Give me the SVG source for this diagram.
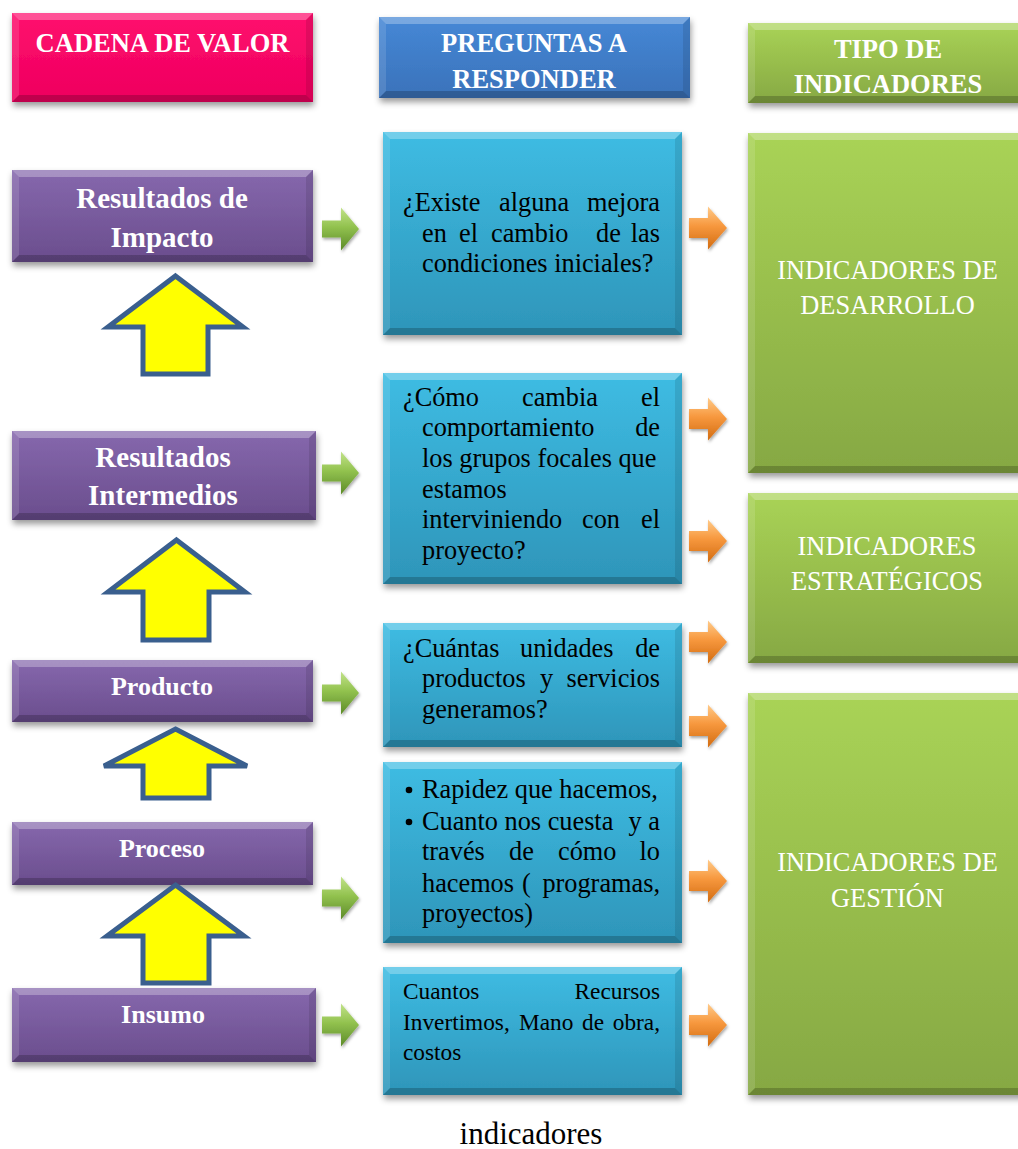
<svg xmlns="http://www.w3.org/2000/svg" width="1018" height="1149" viewBox="0 0 1018 1149">
  <defs>
    <linearGradient id="gPink" x1="0" y1="0" x2="0" y2="1">
      <stop offset="0" stop-color="#FF0D6E"/>
      <stop offset="1" stop-color="#EE005E"/>
    </linearGradient>
    <linearGradient id="gBlue" x1="0" y1="0" x2="0" y2="1">
      <stop offset="0" stop-color="#4688D6"/>
      <stop offset="1" stop-color="#3A72BA"/>
    </linearGradient>
    <linearGradient id="gGreen" x1="0" y1="0" x2="0" y2="1">
      <stop offset="0" stop-color="#A9D356"/>
      <stop offset="1" stop-color="#86A843"/>
    </linearGradient>
    <linearGradient id="gPurple" x1="0" y1="0" x2="0" y2="1">
      <stop offset="0" stop-color="#8668AD"/>
      <stop offset="1" stop-color="#6A4D8D"/>
    </linearGradient>
    <linearGradient id="gCyan" x1="0" y1="0" x2="0" y2="1">
      <stop offset="0" stop-color="#3EBCE3"/>
      <stop offset="1" stop-color="#2E95B9"/>
    </linearGradient>
    <linearGradient id="gArrGreen" x1="0" y1="0" x2="0" y2="1">
      <stop offset="0" stop-color="#C2E38A"/>
      <stop offset="0.45" stop-color="#92C24F"/>
      <stop offset="1" stop-color="#5C8A28"/>
    </linearGradient>
    <linearGradient id="gArrOrange" x1="0" y1="0" x2="0" y2="1">
      <stop offset="0" stop-color="#FFCB8A"/>
      <stop offset="0.45" stop-color="#F7983E"/>
      <stop offset="1" stop-color="#D26C12"/>
    </linearGradient>
    <filter id="shadow" x="-10%" y="-10%" width="120%" height="130%">
      <feDropShadow dx="1" dy="4" stdDeviation="3" flood-color="#000" flood-opacity="0.4"/>
    </filter>
    <filter id="ashadow" x="-20%" y="-20%" width="150%" height="150%">
      <feDropShadow dx="1" dy="2" stdDeviation="1.5" flood-color="#000" flood-opacity="0.35"/>
    </filter>
    <!-- small right-pointing block arrows -->
    <path id="arrGreen" d="M0,-8.5 H19 V-21.5 L37,0 L19,21.5 V8.5 H0 Z"/>
    <path id="arrOrange" d="M0,-10 H19 V-21.5 L38,0 L19,21.5 V10 H0 Z"/>
  </defs>
  <style>
    .bt { fill:#fff; opacity:.28 }
    .bl { fill:#fff; opacity:.12 }
    .br { fill:#000; opacity:.10 }
    .bb { fill:#000; opacity:.20 }
    .box { filter:url(#shadow) }
    .hd { font-family:"Liberation Serif","Times New Roman",serif; font-weight:bold; font-size:26.5px; fill:#fff; text-anchor:middle }
    .pl { font-family:"Liberation Serif","Times New Roman",serif; font-weight:bold; font-size:29px; fill:#fff; text-anchor:middle }
    .ps { font-family:"Liberation Serif","Times New Roman",serif; font-weight:bold; font-size:26px; fill:#fff; text-anchor:middle }
    .q { font-family:"Liberation Serif","Times New Roman",serif; font-size:26.3px; fill:#000 }
    .q5 { font-family:"Liberation Serif","Times New Roman",serif; font-size:23.3px; fill:#000 }
    .e { text-anchor:end }
    .gi { font-family:"Liberation Serif","Times New Roman",serif; font-size:26.4px; fill:#fff; text-anchor:middle }
    .cap { font-family:"Liberation Serif","Times New Roman",serif; font-size:31px; fill:#000; text-anchor:middle }
    .up { fill:#FFFF00; stroke:#3A5F8E; stroke-width:5; stroke-linejoin:miter }
    .ag { fill:url(#gArrGreen); filter:url(#ashadow) }
    .ao { fill:url(#gArrOrange); filter:url(#ashadow) }
  </style>

  <rect width="1018" height="1149" fill="#fff"/>

  <!-- column headers -->
  <g id="hdr-cadena">
    <rect class="box" x="12" y="13" width="301" height="89" fill="url(#gPink)"/>
    <path class="bt" d="M12,13 H313 L306,20 H19 Z"/>
    <path class="bb" d="M12,102 H313 L306,95 H19 Z"/>
    <path class="bl" d="M12,13 L19,20 V95 L12,102 Z"/>
    <path class="br" d="M313,13 L306,20 V95 L313,102 Z"/>
    <text class="hd" x="162.5" y="52">CADENA DE VALOR</text>
  </g>
  <g id="hdr-preguntas">
    <rect class="box" x="379" y="17" width="311" height="81" fill="url(#gBlue)"/>
    <path class="bt" d="M379,17 H690 L683,24 H386 Z"/>
    <path class="bb" d="M379,98 H690 L683,91 H386 Z"/>
    <path class="bl" d="M379,17 L386,24 V91 L379,98 Z"/>
    <path class="br" d="M690,17 L683,24 V91 L690,98 Z"/>
    <text class="hd" x="534" y="52">PREGUNTAS A</text>
    <text class="hd" x="534" y="88">RESPONDER</text>
  </g>
  <g id="hdr-tipo">
    <rect class="box" x="748" y="23" width="290" height="80" fill="url(#gGreen)"/>
    <path class="bt" d="M748,23 H1038 L1031,30 H755 Z"/>
    <path class="bb" d="M748,103 H1038 L1031,96 H755 Z"/>
    <path class="bl" d="M748,23 L755,30 V96 L748,103 Z"/>
    <text class="hd" x="888" y="58">TIPO DE</text>
    <text class="hd" x="888" y="93">INDICADORES</text>
  </g>

  <!-- value chain -->
  <g id="impacto">
    <rect class="box" x="12" y="170" width="301" height="92" fill="url(#gPurple)"/>
    <path class="bt" d="M12,170 H313 L306,177 H19 Z"/>
    <path class="bb" d="M12,262 H313 L306,255 H19 Z"/>
    <path class="bl" d="M12,170 L19,177 V255 L12,262 Z"/>
    <path class="br" d="M313,170 L306,177 V255 L313,262 Z"/>
    <text class="pl" x="162" y="208">Resultados de</text>
    <text class="pl" x="162" y="247">Impacto</text>
  </g>
  <g id="intermedios">
    <rect class="box" x="12" y="431" width="304" height="89" fill="url(#gPurple)"/>
    <path class="bt" d="M12,431 H316 L309,438 H19 Z"/>
    <path class="bb" d="M12,520 H316 L309,513 H19 Z"/>
    <path class="bl" d="M12,431 L19,438 V513 L12,520 Z"/>
    <path class="br" d="M316,431 L309,438 V513 L316,520 Z"/>
    <text class="pl" x="163" y="467">Resultados</text>
    <text class="pl" x="163" y="505">Intermedios</text>
  </g>
  <g id="producto">
    <rect class="box" x="12" y="660" width="301" height="62" fill="url(#gPurple)"/>
    <path class="bt" d="M12,660 H313 L306,667 H19 Z"/>
    <path class="bb" d="M12,722 H313 L306,715 H19 Z"/>
    <path class="bl" d="M12,660 L19,667 V715 L12,722 Z"/>
    <path class="br" d="M313,660 L306,667 V715 L313,722 Z"/>
    <text class="ps" x="162" y="695">Producto</text>
  </g>
  <g id="proceso">
    <rect class="box" x="12" y="822" width="301" height="63" fill="url(#gPurple)"/>
    <path class="bt" d="M12,822 H313 L306,829 H19 Z"/>
    <path class="bb" d="M12,885 H313 L306,878 H19 Z"/>
    <path class="bl" d="M12,822 L19,829 V878 L12,885 Z"/>
    <path class="br" d="M313,822 L306,829 V878 L313,885 Z"/>
    <text class="ps" x="162" y="857">Proceso</text>
  </g>
  <g id="insumo">
    <rect class="box" x="12" y="988" width="304" height="74" fill="url(#gPurple)"/>
    <path class="bt" d="M12,988 H316 L309,995 H19 Z"/>
    <path class="bb" d="M12,1062 H316 L309,1055 H19 Z"/>
    <path class="bl" d="M12,988 L19,995 V1055 L12,1062 Z"/>
    <path class="br" d="M316,988 L309,995 V1055 L316,1062 Z"/>
    <text class="ps" x="163" y="1023">Insumo</text>
  </g>

  <!-- questions -->
  <g id="q-impacto">
    <rect class="box" x="383" y="132" width="299" height="203" fill="url(#gCyan)"/>
    <path class="bt" d="M383,132 H682 L675,139 H390 Z"/>
    <path class="bb" d="M383,335 H682 L675,328 H390 Z"/>
    <path class="bl" d="M383,132 L390,139 V328 L383,335 Z"/>
    <path class="br" d="M682,132 L675,139 V328 L682,335 Z"/>
    <text class="q" x="403" y="211">¿Existe</text>
    <text class="q" x="499" y="211">alguna</text>
    <text class="q e" x="660" y="211">mejora</text>
    <text class="q" x="422" y="242">en</text>
    <text class="q" x="459" y="242">el</text>
    <text class="q" x="491" y="242">cambio</text>
    <text class="q" x="596" y="242">de</text>
    <text class="q e" x="660" y="242">las</text>
    <text class="q" x="422" y="272">condiciones iniciales?</text>
  </g>
  <g id="q-intermedios">
    <rect class="box" x="383" y="373" width="299" height="211" fill="url(#gCyan)"/>
    <path class="bt" d="M383,373 H682 L675,380 H390 Z"/>
    <path class="bb" d="M383,584 H682 L675,577 H390 Z"/>
    <path class="bl" d="M383,373 L390,380 V577 L383,584 Z"/>
    <path class="br" d="M682,373 L675,380 V577 L682,584 Z"/>
    <text class="q" x="403" y="406">¿Cómo</text>
    <text class="q" x="522" y="406">cambia</text>
    <text class="q e" x="660" y="406">el</text>
    <text class="q" x="422" y="436">comportamiento</text>
    <text class="q e" x="660" y="436">de</text>
    <text class="q" x="422" y="467">los grupos focales que</text>
    <text class="q" x="422" y="498">estamos</text>
    <text class="q" x="422" y="528">interviniendo</text>
    <text class="q" x="582" y="528">con</text>
    <text class="q e" x="660" y="528">el</text>
    <text class="q" x="422" y="559">proyecto?</text>
  </g>
  <g id="q-producto">
    <rect class="box" x="383" y="623" width="299" height="124" fill="url(#gCyan)"/>
    <path class="bt" d="M383,623 H682 L675,630 H390 Z"/>
    <path class="bb" d="M383,747 H682 L675,740 H390 Z"/>
    <path class="bl" d="M383,623 L390,630 V740 L383,747 Z"/>
    <path class="br" d="M682,623 L675,630 V740 L682,747 Z"/>
    <text class="q" x="403" y="657">¿Cuántas</text>
    <text class="q" x="520" y="657">unidades</text>
    <text class="q e" x="660" y="657">de</text>
    <text class="q" x="422" y="687">productos</text>
    <text class="q" x="540" y="687">y</text>
    <text class="q e" x="660" y="687">servicios</text>
    <text class="q" x="422" y="718">generamos?</text>
  </g>
  <g id="q-proceso">
    <rect class="box" x="383" y="762" width="299" height="181" fill="url(#gCyan)"/>
    <path class="bt" d="M383,762 H682 L675,769 H390 Z"/>
    <path class="bb" d="M383,943 H682 L675,936 H390 Z"/>
    <path class="bl" d="M383,762 L390,769 V936 L383,943 Z"/>
    <path class="br" d="M682,762 L675,769 V936 L682,943 Z"/>
    <circle cx="409" cy="790" r="3.3" fill="#000"/>
    <text class="q" x="422" y="798">Rapidez que hacemos,</text>
    <circle cx="409" cy="822" r="3.3" fill="#000"/>
    <text class="q" x="422" y="830">Cuanto nos cuesta</text>
    <text class="q e" x="660" y="830">y a</text>
    <text class="q" x="422" y="860">través</text>
    <text class="q" x="509" y="860">de</text>
    <text class="q" x="558" y="860">cómo</text>
    <text class="q e" x="660" y="860">lo</text>
    <text class="q" x="422" y="892">hacemos</text>
    <text class="q" x="522" y="892">(</text>
    <text class="q e" x="660" y="892">programas,</text>
    <text class="q" x="422" y="922">proyectos)</text>
  </g>
  <g id="q-insumo">
    <rect class="box" x="383" y="967" width="299" height="128" fill="url(#gCyan)"/>
    <path class="bt" d="M383,967 H682 L675,974 H390 Z"/>
    <path class="bb" d="M383,1095 H682 L675,1088 H390 Z"/>
    <path class="bl" d="M383,967 L390,974 V1088 L383,1095 Z"/>
    <path class="br" d="M682,967 L675,974 V1088 L682,1095 Z"/>
    <text class="q5" x="403" y="999">Cuantos</text>
    <text class="q5 e" x="660" y="999">Recursos</text>
    <text class="q5" x="403" y="1030">Invertimos,</text>
    <text class="q5" x="519" y="1030">Mano</text>
    <text class="q5" x="582" y="1030">de</text>
    <text class="q5 e" x="660" y="1030">obra,</text>
    <text class="q5" x="403" y="1060">costos</text>
  </g>

  <!-- indicator types -->
  <g id="ind-desarrollo">
    <rect class="box" x="748" y="133" width="290" height="340" fill="url(#gGreen)"/>
    <path class="bt" d="M748,133 H1038 L1031,140 H755 Z"/>
    <path class="bb" d="M748,473 H1038 L1031,466 H755 Z"/>
    <path class="bl" d="M748,133 L755,140 V466 L748,473 Z"/>
    <text class="gi" x="887.5" y="279">INDICADORES DE</text>
    <text class="gi" x="887.5" y="314">DESARROLLO</text>
  </g>
  <g id="ind-estrategicos">
    <rect class="box" x="748" y="493" width="290" height="170" fill="url(#gGreen)"/>
    <path class="bt" d="M748,493 H1038 L1031,500 H755 Z"/>
    <path class="bb" d="M748,663 H1038 L1031,656 H755 Z"/>
    <path class="bl" d="M748,493 L755,500 V656 L748,663 Z"/>
    <text class="gi" x="887" y="555">INDICADORES</text>
    <text class="gi" x="887" y="590">ESTRATÉGICOS</text>
  </g>
  <g id="ind-gestion">
    <rect class="box" x="748" y="693" width="290" height="402" fill="url(#gGreen)"/>
    <path class="bt" d="M748,693 H1038 L1031,700 H755 Z"/>
    <path class="bb" d="M748,1095 H1038 L1031,1088 H755 Z"/>
    <path class="bl" d="M748,693 L755,700 V1088 L748,1095 Z"/>
    <text class="gi" x="887.5" y="871">INDICADORES DE</text>
    <text class="gi" x="887.5" y="907">GESTIÓN</text>
  </g>

  <!-- connectors -->
  <g id="connectors">
    <!-- upward flow along the value chain -->
    <polygon class="up" points="175.5,276 243,327 208,327 208,374 143,374 143,327 108,327"/>
    <polygon class="up" points="176.5,540 245,592 209,592 209,640 143,640 143,592 108,592"/>
    <polygon class="up" points="175.5,729 247,766 209,766 209,798 143,798 143,766 104,766"/>
    <polygon class="up" points="175.5,885 244,936 209,936 209,983 143,983 143,936 107,936"/>
    <!-- value chain to questions -->
    <use href="#arrGreen" class="ag" x="322" y="229"/>
    <use href="#arrGreen" class="ag" x="322" y="473"/>
    <use href="#arrGreen" class="ag" x="322" y="693"/>
    <use href="#arrGreen" class="ag" x="322" y="898"/>
    <use href="#arrGreen" class="ag" x="322" y="1025"/>
    <!-- questions to indicator types -->
    <use href="#arrOrange" class="ao" x="689" y="228"/>
    <use href="#arrOrange" class="ao" x="689" y="419"/>
    <use href="#arrOrange" class="ao" x="689" y="541"/>
    <use href="#arrOrange" class="ao" x="689" y="642"/>
    <use href="#arrOrange" class="ao" x="689" y="726"/>
    <use href="#arrOrange" class="ao" x="689" y="881"/>
    <use href="#arrOrange" class="ao" x="689" y="1025"/>
  </g>

  <text class="cap" x="531" y="1144">indicadores</text>
</svg>
